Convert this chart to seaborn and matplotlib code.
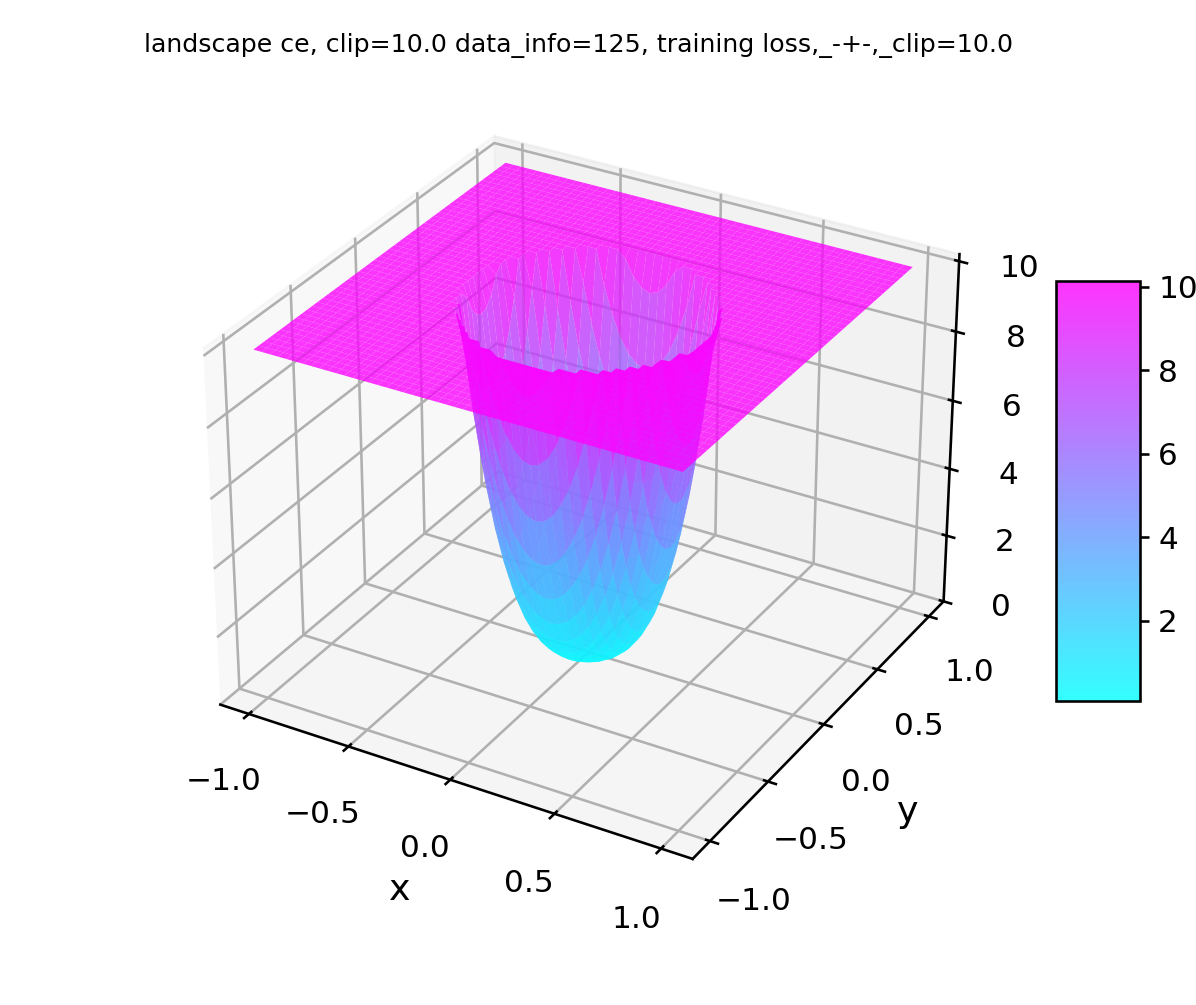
import numpy as np
import matplotlib
matplotlib.use("Agg")
import matplotlib.pyplot as plt
import seaborn as sns

TITLE = "landscape ce, clip=10.0 data_info=125, training loss,_-+-,_clip=10.0"
CLIP = 10.0
GRID_HALF_CELLS = 25
COLOR_RANGE = (0.08, 10.14)
Z_LIMITS = (0.0, 10.2)
Z_TICKS = [0, 2, 4, 6, 8, 10]
XY_TICKS = [-1.0, -0.5, 0.0, 0.5, 1.0]

bowl_rows = [
    [0.10, 0.10, 0.12, 0.17, 0.28, 0.48, 0.80, 1.26, 1.89, 2.74, 3.85, 5.23, 6.94, 9.00],
    [0.10, 0.11, 0.13, 0.18, 0.30, 0.51, 0.83, 1.29, 1.94, 2.80, 3.91, 5.30, 7.02, 9.09],
    [0.12, 0.13, 0.16, 0.23, 0.36, 0.59, 0.93, 1.41, 2.08, 2.97, 4.10, 5.51, 7.25, 9.35],
    [0.17, 0.18, 0.23, 0.32, 0.48, 0.73, 1.10, 1.62, 2.33, 3.25, 4.42, 5.88, 7.65, 9.80],
    [0.28, 0.30, 0.36, 0.48, 0.67, 0.96, 1.37, 1.94, 2.69, 3.67, 4.89, 6.40, 8.24],
    [0.48, 0.51, 0.59, 0.73, 0.96, 1.29, 1.76, 2.38, 3.19, 4.22, 5.51, 7.10, 9.00],
    [0.80, 0.83, 0.93, 1.10, 1.37, 1.76, 2.28, 2.97, 3.85, 4.95, 6.33, 7.98, 9.98],
    [1.26, 1.29, 1.41, 1.62, 1.94, 2.38, 2.97, 3.72, 4.68, 5.88, 7.33, 9.09],
    [1.89, 1.94, 2.08, 2.33, 2.69, 3.19, 3.85, 4.68, 5.73, 7.02, 8.58],
    [2.74, 2.80, 2.97, 3.25, 3.67, 4.22, 4.95, 5.88, 7.02, 8.41],
    [3.85, 3.91, 4.10, 4.42, 4.89, 5.51, 6.33, 7.33, 8.58],
    [5.23, 5.30, 5.51, 5.88, 6.40, 7.10, 7.98, 9.09],
    [6.94, 7.02, 7.25, 7.65, 8.24, 9.00],
    [9.00, 9.09, 9.35, 9.80],
]

sns.reset_orig()
plt.rcParams.update({"grid.linewidth": 1.0, "axes.linewidth": 1.0,
                     "xtick.major.width": 1.0, "ytick.major.width": 1.0,
                     "xtick.labelsize": 12, "ytick.labelsize": 12})
cool = sns.color_palette("cool", as_cmap=True)

quadrant = np.full((GRID_HALF_CELLS + 1, GRID_HALF_CELLS + 1), CLIP)
for i, row in enumerate(bowl_rows):
    quadrant[i, :len(row)] = row
top = np.concatenate([quadrant[:, :0:-1], quadrant], axis=1)
Z = np.concatenate([top[:0:-1], top], axis=0)
axis_values = np.linspace(-1, 1, 2 * GRID_HALF_CELLS + 1)
X, Y = np.meshgrid(axis_values, axis_values)

W, H = 1196, 1005
fig = plt.figure(figsize=(W / 187, H / 187), dpi=187)
ax = fig.add_subplot(projection="3d")
surf = ax.plot_surface(X, Y, Z, cmap=cool, linewidth=0, antialiased=True, alpha=0.8,
                       rstride=1, cstride=1, vmin=COLOR_RANGE[0], vmax=COLOR_RANGE[1])
ax.set_xticks(XY_TICKS)
ax.set_yticks(XY_TICKS)
ax.set_zticks(Z_TICKS)
ax.set_zlim(*Z_LIMITS)
ax.tick_params(axis="x", pad=7)
ax.tick_params(axis="y", pad=7)
ax.tick_params(axis="z", labelsize=12, pad=6)
ax.set_xlabel("x", fontsize=14, labelpad=9)
ax.set_ylabel("y", fontsize=14, labelpad=9)

# Default axes box, once reserved for the colorbar, then enlarged to the reference's framing.
reserve = fig.add_axes([0.9, 0.3, 0.01, 0.4])
base = fig.colorbar(surf, ax=ax, shrink=0.5, aspect=5)
pos = ax.get_position()
base.remove()
reserve.remove()
scale = 1.134
cx = pos.x0 + pos.width / 2 + 57 / W
cy = pos.y0 + pos.height / 2 + 16 / H
ax.set_position([cx - pos.width * scale / 2, cy - pos.height * scale / 2,
                 pos.width * scale, pos.height * scale])

cax = fig.add_axes([1056 / W, (H - 701) / H, 84 / W, 420 / H])
fig.colorbar(surf, cax=cax)
fig.text(578 / W, 1 - 46 / H, TITLE, fontsize=9.73, ha="center", va="center")
fig.savefig("out.png", dpi=187)
